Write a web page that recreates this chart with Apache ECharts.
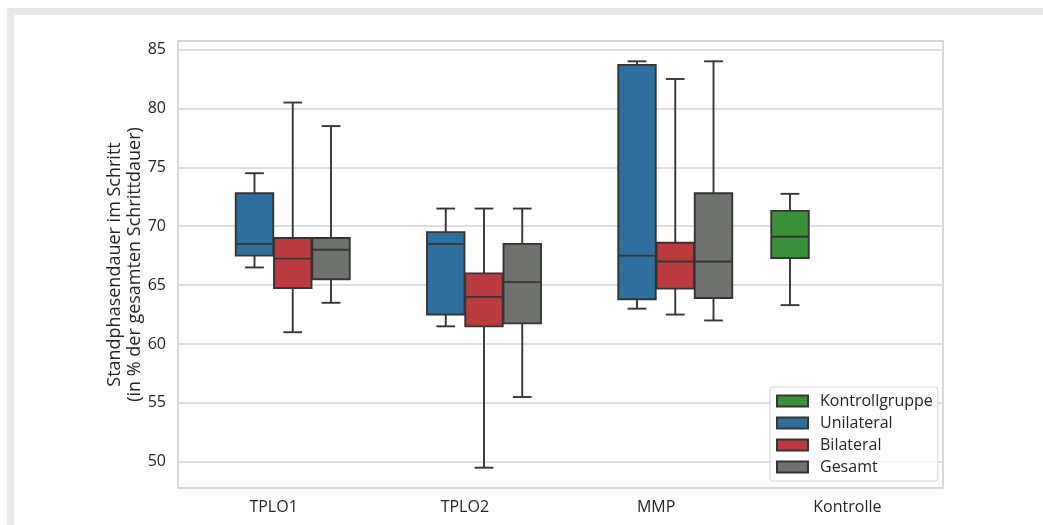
<!DOCTYPE html>
<html>
<head>
<meta charset="utf-8">
<script src="https://cdn.jsdelivr.net/npm/echarts@6/dist/echarts.min.js"></script>
<style>
  html, body { margin: 0; padding: 0; background: #ffffff; }
  #chart { width: 1043px; height: 525px; }
</style>
</head>
<body>
<div id="chart"></div>
<script>
// ---- data (min, Q1, median, Q3, max) per category ----
const categories = ['TPLO1', 'TPLO2', 'MMP', 'Kontrolle'];
const groupNames = ['Kontrollgruppe', 'Unilateral', 'Bilateral', 'Gesamt'];
const kontrollgruppe = [null, null, null, [63.3, 67.3, 69.1, 71.3, 72.75]];
const unilateral = [[66.5, 67.5, 68.5, 72.8, 74.5], [61.5, 62.5, 68.5, 69.5, 71.5], [63.0, 63.8, 67.5, 83.7, 84.0], null];
const bilateral = [[61.0, 64.75, 67.25, 69.0, 80.5], [49.5, 61.5, 64.0, 66.0, 71.5], [62.5, 64.7, 67.0, 68.6, 82.5], null];
const gesamt = [[63.5, 65.5, 68.0, 69.0, 78.5], [55.5, 61.75, 65.25, 68.5, 71.5], [62.0, 63.9, 67.0, 72.8, 84.0], null];
const yTickValues = [50, 55, 60, 65, 70, 75, 80, 85];

const groups = [kontrollgruppe, unilateral, bilateral, gesamt];
const colors = ['#3a913a', '#2f6f9e', '#b93a3f', '#707270'];
const edge = '#353535';
const FONT = '"Open Sans", "DejaVu Sans", sans-serif';

const chart = echarts.init(document.getElementById('chart'), null, { renderer: 'canvas' });

function makeRender(slot, nSlots, color) {
  return function (params, api) {
    const cat = api.value(0);
    const pMin = api.coord([cat, api.value(1)]);
    const pQ1 = api.coord([cat, api.value(2)]);
    const pMed = api.coord([cat, api.value(3)]);
    const pQ3 = api.coord([cat, api.value(4)]);
    const pMax = api.coord([cat, api.value(5)]);
    const band = api.size([1, 0])[0];
    const slotW = band * 0.8 / nSlots;
    const cx = pMed[0] + (slot - (nSlots - 1) / 2) * slotW;
    const bw = slotW * 0.98;
    const cw = bw * 0.5;
    const lineStyle = { stroke: edge, lineWidth: 1.9, fill: null };
    return {
      type: 'group',
      children: [
        { type: 'line', shape: { x1: cx, y1: pQ3[1], x2: cx, y2: pMax[1] }, style: lineStyle },
        { type: 'line', shape: { x1: cx, y1: pQ1[1], x2: cx, y2: pMin[1] }, style: lineStyle },
        { type: 'line', shape: { x1: cx - cw / 2, y1: pMax[1], x2: cx + cw / 2, y2: pMax[1] }, style: lineStyle },
        { type: 'line', shape: { x1: cx - cw / 2, y1: pMin[1], x2: cx + cw / 2, y2: pMin[1] }, style: lineStyle },
        { type: 'rect', shape: { x: cx - bw / 2, y: pQ3[1], width: bw, height: pQ1[1] - pQ3[1] },
          style: { fill: color, stroke: edge, lineWidth: 1.9 } },
        { type: 'line', shape: { x1: cx - bw / 2, y1: pMed[1], x2: cx + bw / 2, y2: pMed[1] }, style: lineStyle }
      ]
    };
  };
}

const series = groups.map(function (arr, k) {
  const data = [];
  arr.forEach(function (v, i) { if (v) data.push([i].concat(v)); });
  return {
    name: groupNames[k],
    type: 'custom',
    renderItem: makeRender(k, groups.length, colors[k]),
    itemStyle: { color: colors[k], borderColor: edge, borderWidth: 1 },
    encode: { x: 0, y: [1, 2, 3, 4, 5] },
    data: data,
    z: 3
  };
});

const option = {
  animation: false,
  backgroundColor: '#ffffff',
  graphic: [
    { type: 'rect', shape: { x: 7, y: 8, width: 1043, height: 7 }, style: { fill: '#e9e9e9' }, silent: true },
    { type: 'rect', shape: { x: 7, y: 8, width: 7, height: 525 }, style: { fill: '#e9e9e9' }, silent: true }
  ],
  grid: {
    left: 178, right: 100, top: 41, bottom: 37,
    show: true, borderColor: '#cdcdcd', borderWidth: 1.5, backgroundColor: 'transparent'
  },
  legend: {
    data: groupNames,
    orient: 'vertical',
    left: 770, top: 387,
    icon: 'rect',
    itemWidth: 31, itemHeight: 11,
    itemGap: 6,
    padding: [6, 5, 6, 6],
    borderColor: '#d4d4d4', borderWidth: 1, borderRadius: 3,
    backgroundColor: 'rgba(255,255,255,0.85)',
    textStyle: { fontFamily: FONT, fontSize: 16, color: '#262626', lineHeight: 16, padding: [0, 0, 0, 7] }
  },
  xAxis: {
    type: 'category',
    data: categories,
    axisLine: { show: false },
    axisTick: { show: false },
    splitLine: { show: false },
    axisLabel: { fontFamily: FONT, fontSize: 16, color: '#262626', margin: 11 }
  },
  yAxis: {
    type: 'value',
    min: 47.775, max: 85.725,
    splitNumber: 8, minInterval: 5, maxInterval: 5,
    axisLine: { show: false },
    axisTick: { show: false },
    splitLine: { show: true, lineStyle: { color: '#d6d2d2', width: 1.5 } },
    axisLabel: {
      fontFamily: FONT, fontSize: 16, color: '#262626', margin: 12,
      showMinLabel: false, showMaxLabel: false,
      formatter: function (v) { return yTickValues.indexOf(v) >= 0 ? String(v) : ''; }
    },
    name: 'Standphasendauer im Schritt\n(in % der gesamten Schrittdauer)',
    nameLocation: 'middle',
    nameRotate: 90,
    nameGap: 33,
    nameMoveOverlap: false,
    nameTextStyle: { fontFamily: FONT, fontSize: 18, color: '#262626', lineHeight: 20, align: 'center' }
  },
  series: series
};

chart.setOption(option);
</script>
</body>
</html>
